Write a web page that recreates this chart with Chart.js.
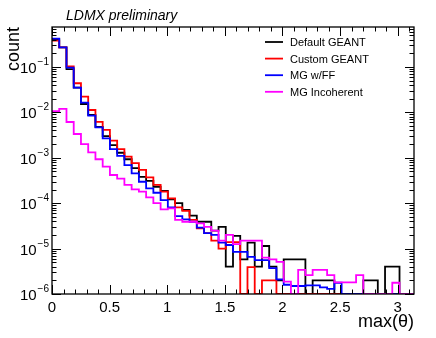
<!DOCTYPE html>
<html>
<head>
<meta charset="utf-8">
<script src="https://cdn.jsdelivr.net/npm/chart.js@4.4.1/dist/chart.umd.min.js"></script>
<style>
  html, body { margin: 0; padding: 0; background: #fff; }
</style>
</head>
<body>
<canvas id="hist" width="436" height="338"></canvas>
<script>
// 50 bins between 0 and pi
const nBins = 50
const xMax = Math.PI
const yMin = 1e-6
const yMax = 0.76

const defaultGeant = [0.41, 0.27, 0.090, 0.035, 0.0153, 0.0088, 4.8e-3, 3.0e-3, 1.91e-3, 1.29e-3,
  9.3e-4, 5.9e-4, 3.8e-4, 3.1e-4, 2.3e-4, 1.86e-4, 1.22e-4, 1.0e-4, 7.1e-5, 5.3e-5,
  3.9e-5, 3.9e-5, 2.5e-5, 3.0e-5, 4.0e-6, 1.9e-5, 5.8e-6, 1.35e-5, 4e-6, 1.14e-5,
  4e-6, 2e-6, 5.8e-6, 5.8e-6, 5.8e-6, 0, 2e-6, 2e-6, 2e-6, 0,
  0, 0, 0, 2e-6, 2e-6, 0, 4e-6, 4e-6, 0, 0]
const customGeant = [0.38, 0.27, 0.103, 0.0438, 0.0222, 0.0113, 6.2e-3, 4.1e-3, 2.38e-3, 1.55e-3,
  1.06e-3, 7.6e-4, 5.4e-4, 3.7e-4, 2.52e-4, 1.79e-4, 1.28e-4, 8.1e-5, 6.8e-5, 4.3e-5,
  2.8e-5, 2.2e-5, 1.5e-5, 1.0e-5, 1.39e-5, 1.39e-5, 0, 3.9e-6, 0, 2e-6,
  2e-6, 0, 0, 0, 0, 0, 0, 0, 0, 0,
  0, 0, 0, 0, 0, 0, 0, 0, 0, 0]
const mgFF = [0.42, 0.27, 0.097, 0.035, 0.0164, 8.45e-3, 4.7e-3, 2.69e-3, 1.55e-3, 1.1e-3,
  6.9e-4, 4.55e-4, 2.97e-4, 2.13e-4, 1.7e-4, 1.17e-4, 8.1e-5, 5.2e-5, 4.4e-5, 3.9e-5,
  2.9e-5, 2.2e-5, 2.0e-5, 1.35e-5, 1.2e-5, 8.5e-6, 8.5e-6, 6.6e-6, 5.6e-6, 5.6e-6,
  3.7e-6, 2.1e-6, 1.6e-6, 1.5e-6, 1.5e-6, 1.55e-6, 1.55e-6, 1.4e-6, 1.3e-6, 1.77e-6,
  0, 0, 0, 0, 0, 0, 0, 0, 0, 0]
const mgIncoherent = [0.0107, 0.0119, 6.15e-3, 3.34e-3, 2.01e-3, 1.32e-3, 9.3e-4, 6.4e-4, 4.18e-4, 3.47e-4,
  2.52e-4, 2.02e-4, 1.79e-4, 1.35e-4, 1.0e-4, 7.3e-5, 7.7e-5, 4.3e-5, 3.9e-5, 3.9e-5,
  3.6e-5, 3.0e-5, 2.5e-5, 1.5e-5, 2.0e-5, 1.26e-5, 1.5e-5, 1.5e-5, 1.5e-5, 6.3e-6,
  5.8e-6, 5.1e-6, 1.87e-6, 0, 3.4e-6, 2.6e-6, 3.4e-6, 3.4e-6, 2.6e-6, 1.8e-6,
  1.8e-6, 1.8e-6, 2.6e-6, 0, 0, 0, 0, 1.77e-6, 0, 0]

const seriesNames = ['Default GEANT', 'Custom GEANT', 'MG w/FF', 'MG Incoherent']
const seriesColors = ['#000000', '#ff0000', '#0000ff', '#ff00ff']
const xTickValues = [0, 0.5, 1, 1.5, 2, 2.5, 3]
const xTickLabels = ['0', '0.5', '1', '1.5', '2', '2.5', '3']
const yDecades = [-6, -5, -4, -3, -2, -1]

const binWidth = xMax / nBins

// left bin edges carry the bin content, closing point at the upper edge
const toSteps = (vals) => {
  let pts = vals.map((v, i) => ({ x: i * binWidth, y: v > 0 ? v : yMin }))
  pts.push({ x: nBins * binWidth, y: pts[pts.length - 1].y })
  return pts
}

const allSeries = [defaultGeant, customGeant, mgFF, mgIncoherent]

const rootFrame = {
  id: 'rootFrame',
  afterDraw(chart) {
    const c = chart.ctx, xs = chart.scales.x, ys = chart.scales.y
    const a = chart.chartArea
    c.save()
    c.strokeStyle = '#000'
    c.lineWidth = 1.3
    c.strokeRect(a.left, a.top, a.right - a.left, a.bottom - a.top)

    c.lineWidth = 1
    c.beginPath()
    // x ticks every 0.1, longer every 0.5
    for (let k = 0; k <= 31; k++) {
      const px = Math.round(xs.getPixelForValue(k / 10)) + 0.5
      const len = k % 5 == 0 ? 9 : 4.5
      c.moveTo(px, a.bottom); c.lineTo(px, a.bottom - len)
      c.moveTo(px, a.top); c.lineTo(px, a.top + len)
    }
    // log ticks on y
    for (let d = -6; d <= 0; d++) {
      for (let m = 1; m <= 9; m++) {
        const v = m * Math.pow(10, d)
        if (v < yMin || v > yMax) continue
        const py = Math.round(ys.getPixelForValue(v)) + 0.5
        const len = m == 1 ? 9 : 4.5
        c.moveTo(a.left, py); c.lineTo(a.left + len, py)
        c.moveTo(a.right, py); c.lineTo(a.right - len, py)
      }
    }
    c.stroke()

    c.fillStyle = '#000'
    c.font = '15px "Liberation Sans", Arial, sans-serif'
    c.textAlign = 'center'
    c.textBaseline = 'alphabetic'
    xTickValues.forEach((v, i) => {
      c.fillText(xTickLabels[i], xs.getPixelForValue(v), a.bottom + 18)
    })

    yDecades.forEach((d) => {
      const py = ys.getPixelForValue(Math.pow(10, d))
      const exp = '\u2212' + Math.abs(d)
      c.font = '10px "Liberation Sans", Arial, sans-serif'
      const ew = c.measureText(exp).width
      c.textAlign = 'right'
      c.fillText(exp, a.left - 3, py - 2)
      c.font = '15px "Liberation Sans", Arial, sans-serif'
      c.fillText('10', a.left - 4 - ew, py + 6)
    })

    // axis titles
    c.font = '18px "Liberation Sans", Arial, sans-serif'
    c.textAlign = 'right'
    c.fillText('max(\u03b8)', a.right, 327)
    c.save()
    c.translate(19, a.top)
    c.rotate(-Math.PI / 2)
    c.fillText('count', 0, 0)
    c.restore()

    c.font = 'italic 14px "Liberation Sans", Arial, sans-serif'
    c.textAlign = 'left'
    c.fillText('LDMX preliminary', 66, 20)

    // legend
    c.font = '11px "Liberation Sans", Arial, sans-serif'
    seriesNames.forEach((name, i) => {
      const ly = 42 + i * 16.6
      c.strokeStyle = seriesColors[i]
      c.lineWidth = 1.8
      c.beginPath()
      c.moveTo(265, ly); c.lineTo(283, ly)
      c.stroke()
      c.fillStyle = '#000'
      c.fillText(name, 290, ly + 4)
    })
    c.restore()
  }
}

const ctx = document.getElementById('hist').getContext('2d')
const hist = new Chart(ctx, {
  type: 'line',
  data: {
    datasets: allSeries.map((vals, i) => ({
      label: seriesNames[i],
      data: toSteps(vals),
      borderColor: seriesColors[i],
      backgroundColor: seriesColors[i],
      borderWidth: 1.8,
      stepped: 'before',
      fill: false,
      pointRadius: 0,
      borderJoinStyle: 'miter',
      order: 4 - i
    }))
  },
  options: {
    responsive: false,
    animation: false,
    layout: { padding: { left: 52, right: 22, top: 27, bottom: 44 } },
    plugins: { legend: { display: false }, tooltip: { enabled: false } },
    scales: {
      x: { type: 'linear', min: 0, max: xMax, display: false },
      y: { type: 'logarithmic', min: yMin, max: yMax, display: false }
    }
  },
  plugins: [rootFrame]
})
</script>
</body>
</html>
